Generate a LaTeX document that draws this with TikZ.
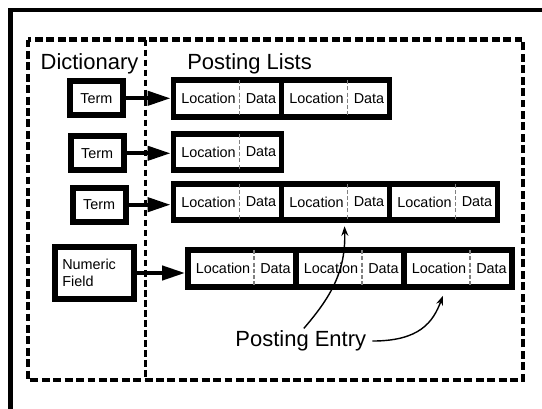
\documentclass[tikz,border=0pt]{standalone}
\usepackage{fontspec}
\setmainfont{Liberation Sans}
\usetikzlibrary{arrows.meta,calc}

\tikzset{
  termbox/.style={draw, line width=3.4pt, minimum width=1.06cm, minimum height=0.68cm,
    inner sep=0pt, font=\fontsize{8.2}{9.8}\selectfont},
  cellbox/.style={draw, line width=3.4pt, minimum width=2.16cm, minimum height=0.73cm, inner sep=0pt},
  celltext/.style={inner sep=0pt, font=\fontsize{8.2}{9.8}\selectfont},
  sepline/.style={gray, line width=0.6pt, dash pattern=on 2.3pt off 1.2pt},
  bigarrow/.style={line width=2.2pt, -{Triangle[length=13pt,width=8pt]}},
  entryarrow/.style={line width=0.8pt, -{Stealth[length=5.5pt,width=4pt]}},
  biglabel/.style={inner sep=0pt, anchor=base, font=\fontsize{12.5}{15}\selectfont},
}

\begin{document}
\begin{tikzpicture}[x=0.02cm, y=-0.02cm]
    \useasboundingbox (0,0) rectangle (542,409);

    % Outer frame and the two dashed areas
    \draw[line width=2.4pt] (10.5,409) -- (10.5,10) -- (542,10);
    \draw[line width=2.3pt, dash pattern=on 4.5pt off 2pt] (28.3,39.5) rectangle (523,380);
    \draw[line width=1.3pt, dash pattern=on 3.8pt off 1.9pt] (145.5,39.5) -- (145.5,380);

    % Headings
    \node[biglabel] (dict) at (89.5,69.3) {Dictionary};
    \node[biglabel] (lists) at (249.6,69.3) {Posting Lists};

    % Dictionary entries
    \node[termbox] (t1) at (96.3,98.3) {Term};
    \node[termbox] (t2) at (97.2,153.3) {Term};
    \node[termbox] (t3) at (99.2,204.7) {Term};
    \node[termbox, minimum width=1.58cm, minimum height=1.03cm, text width=1.3cm, align=left]
        (t4) at (94.8,273) {Numeric\\Field};

    % Posting lists: row / y / x of first cell / number of cells
    \foreach \row/\y/\x/\n in {1/98.5/227.5/2, 2/152/227.5/1, 3/202/227.5/3, 4/268.5/242/3} {
      \foreach \c in {1,...,\n} {
        \node[cellbox] (c\row\c) at ({\x+108*(\c-1)},\y) {};
        \node[celltext] (c\row\c loc) at ($(c\row\c.center)+(-19,0)$) {Location};
        \node[celltext] (c\row\c dat) at ($(c\row\c.center)+(33.5,0)$) {Data};
        \draw[sepline] ($(c\row\c.north)+(12,3)$) -- ($(c\row\c.south)+(12,-3)$);
      }
    }

    % Term -> first posting
    \draw[bigarrow] (t1.east) -- (t1.east -| c11.west);
    \draw[bigarrow] (t2.east) -- (t2.east -| c21.west);
    \draw[bigarrow] (t3.east) -- (t3.east -| c31.west);
    \draw[bigarrow] (t4.east) -- (t4.east -| c41.west);

    % Posting Entry label
    \node[biglabel] (entry) at (300.8,346.7) {Posting Entry};
    \draw[entryarrow] ($(entry.north)+(3,-2)$) .. controls (330,298) and (346,272) .. ($(c32.south)+(9,3)$);
    \draw[entryarrow] ($(entry.east)+(6,0)$) .. controls (420,341) and (433,322) .. ($(c43.south)+(-15,6)$);
\end{tikzpicture}
\end{document}
